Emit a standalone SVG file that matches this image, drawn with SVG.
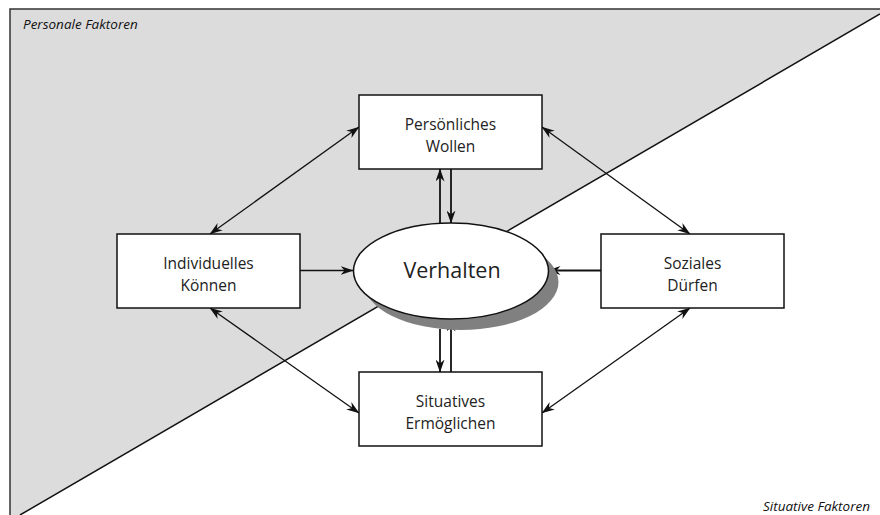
<svg xmlns="http://www.w3.org/2000/svg" width="880" height="515" viewBox="0 0 880 515">
  <style>
    .box { fill: #ffffff; stroke: #111111; stroke-width: 1.5; }
    .lbl { font-family: "Open Sans", "DejaVu Sans", sans-serif; font-size: 15.5px; fill: #222222; text-anchor: middle; }
    .corner { font-family: "Open Sans", "DejaVu Sans", sans-serif; font-size: 13.5px; font-style: italic; fill: #111111; }
    .ln { stroke: #111111; fill: none; }
    .thin { stroke-width: 1.3; }
    .thick { stroke-width: 1.8; }
  </style>
  <defs>
    <marker id="ah" viewBox="0 0 13 9" refX="12.5" refY="4.5" markerWidth="13" markerHeight="9" markerUnits="userSpaceOnUse" orient="auto-start-reverse">
      <path d="M0,0 L13,4.5 L0,9 L4,4.5 z" fill="#111111"/>
    </marker>
  </defs>

  <!-- background: personal half shaded, split by the diagonal -->
  <rect x="0" y="0" width="880" height="515" fill="#ffffff"/>
  <polygon points="10,9 880,9 880,14 20,515 10,515" fill="#dcdcdc"/>
  <line x1="20" y1="515" x2="880" y2="14" stroke="#111111" stroke-width="1.5"/>
  <polyline points="10,515 10,9 880,9" fill="none" stroke="#333333" stroke-width="1.5"/>

  <text class="corner" x="23" y="29">Personale Faktoren</text>
  <text class="corner" x="870" y="511" text-anchor="end">Situative Faktoren</text>

  <!-- connectors -->
  <g id="connectors">
    <line class="ln thin" x1="210" y1="234" x2="359" y2="127" marker-start="url(#ah)" marker-end="url(#ah)"/>
    <line class="ln thin" x1="542" y1="127" x2="690" y2="234" marker-start="url(#ah)" marker-end="url(#ah)"/>
    <line class="ln thin" x1="210" y1="308" x2="359" y2="413" marker-start="url(#ah)" marker-end="url(#ah)"/>
    <line class="ln thin" x1="690" y1="308" x2="542" y2="413" marker-start="url(#ah)" marker-end="url(#ah)"/>
    <line class="ln thin" x1="300" y1="270.5" x2="353" y2="270.5" marker-end="url(#ah)"/>
    <line class="ln thick" x1="601" y1="270.5" x2="548" y2="270.5" marker-end="url(#ah)"/>
    <line class="ln thick" x1="440" y1="223.5" x2="440" y2="169" marker-end="url(#ah)"/>
    <line class="ln thick" x1="451" y1="169" x2="451" y2="223" marker-end="url(#ah)"/>
    <line class="ln thick" x1="440" y1="329" x2="440" y2="372" marker-end="url(#ah)"/>
    <line class="ln thick" x1="451" y1="372" x2="451" y2="319" marker-end="url(#ah)"/>
  </g>

  <!-- central node -->
  <g id="verhalten">
    <ellipse cx="461" cy="282" rx="97.5" ry="48" fill="#808080"/>
    <ellipse cx="451" cy="271" rx="97.5" ry="48" fill="#ffffff" stroke="#111111" stroke-width="1.5"/>
    <text class="lbl" x="452" y="277.5" style="font-size:21.5px">Verhalten</text>
  </g>

  <g id="wollen">
    <rect class="box" x="359" y="95" width="183" height="74"/>
    <text class="lbl" x="450.5" y="129.5">Persönliches</text>
    <text class="lbl" x="450.5" y="151.5">Wollen</text>
  </g>

  <g id="koennen">
    <rect class="box" x="117" y="234" width="183" height="74"/>
    <text class="lbl" x="208.5" y="268.5">Individuelles</text>
    <text class="lbl" x="208.5" y="290.5">Können</text>
  </g>

  <g id="duerfen">
    <rect class="box" x="601" y="234" width="183" height="74"/>
    <text class="lbl" x="692.5" y="268.5">Soziales</text>
    <text class="lbl" x="692.5" y="290.5">Dürfen</text>
  </g>

  <g id="ermoeglichen">
    <rect class="box" x="359" y="372" width="183" height="74"/>
    <text class="lbl" x="450.5" y="406.5">Situatives</text>
    <text class="lbl" x="450.5" y="428.5">Ermöglichen</text>
  </g>
</svg>
